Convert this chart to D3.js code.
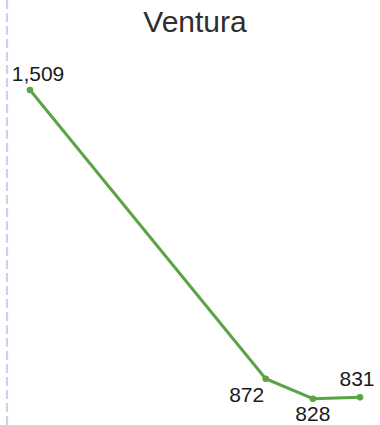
<!DOCTYPE html>
<html>
<head>
<meta charset="utf-8">
<script src="https://cdn.jsdelivr.net/npm/d3@7/dist/d3.min.js"></script>
<style>
  html, body { margin: 0; padding: 0; background: #fff; }
  svg { display: block; }
</style>
</head>
<body>
<div id="chart"></div>
<script>
// Ventura series
const title = "Ventura";
const years = [2010, 2015, 2016, 2017];
const values = [1509, 872, 828, 831];

const W = 380, H = 425;
const lineColor = "#5ba445";

const svg = d3.select("#chart").append("svg")
  .attr("width", W).attr("height", H);

// dashed divider on the left edge
svg.append("line")
  .attr("x1", 7).attr("x2", 7)
  .attr("y1", 0).attr("y2", H)
  .attr("stroke", "#c6d3e8")
  .attr("stroke-width", 2.2)
  .attr("stroke-dasharray", "9,4");

const x = d3.scaleLinear().domain(d3.extent(years)).range([30, 360]);
const y = d3.scaleLinear().domain(d3.extent(values)).range([398.7, 90]);

const data = years.map((yr, i) => ({ year: yr, value: values[i] }));

svg.append("text")
  .attr("x", 195).attr("y", 32)
  .attr("text-anchor", "middle")
  .attr("font-family", "'Liberation Sans', Arial, sans-serif")
  .attr("font-size", 30)
  .attr("fill", "#2e2e2e")
  .text(title);

const line = d3.line().x(d => x(d.year)).y(d => y(d.value));

svg.append("path")
  .datum(data)
  .attr("d", line)
  .attr("fill", "none")
  .attr("stroke", lineColor)
  .attr("stroke-width", 3)
  .attr("stroke-linejoin", "round");

svg.selectAll("circle.pt").data(data).enter().append("circle")
  .attr("class", "pt")
  .attr("cx", d => x(d.year)).attr("cy", d => y(d.value))
  .attr("r", 3.3)
  .attr("fill", lineColor);

// label placement per point: [dx, dy] relative to the point, anchor middle
const labelOffsets = [[8, -9], [-19, 23], [0, 22], [-3, -11]];
const fmt = d3.format(",");

svg.selectAll("text.lbl").data(data).enter().append("text")
  .attr("class", "lbl")
  .attr("x", (d, i) => x(d.year) + labelOffsets[i][0])
  .attr("y", (d, i) => y(d.value) + labelOffsets[i][1])
  .attr("text-anchor", "middle")
  .attr("font-family", "'Liberation Sans', Arial, sans-serif")
  .attr("font-size", 21)
  .attr("fill", "#1a1a1a")
  .text(d => fmt(d.value));
</script>
</body>
</html>
